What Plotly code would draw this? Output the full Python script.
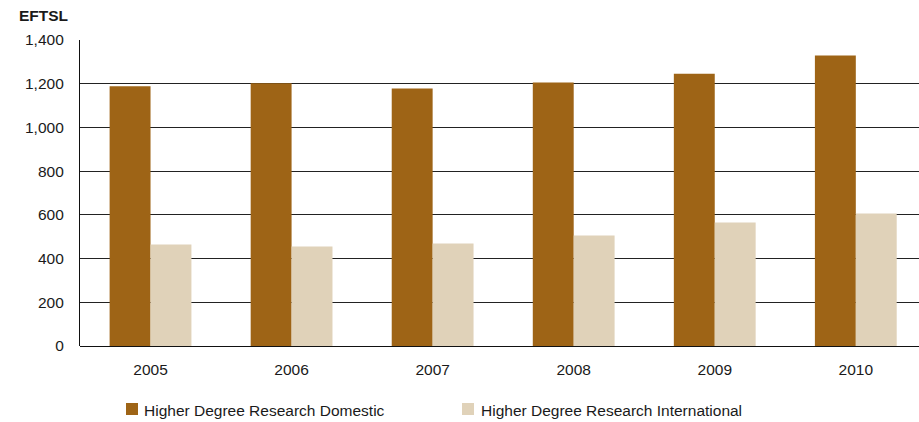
import plotly.graph_objects as go

years = ["2005", "2006", "2007", "2008", "2009", "2010"]
domestic = [1188, 1202, 1178, 1206, 1246, 1329]
international = [464, 455, 469, 505, 565, 606]
series_names = ["Higher Degree Research Domestic", "Higher Degree Research International"]

dom_color = "#9E6416"
intl_color = "#E0D2B9"
font_family = "Liberation Sans, Arial, Helvetica, sans-serif"
text_color = "#1a1a1a"

W, H = 919, 422
ML, MR, MT, MB = 80, 0, 40, 76
plot_w = W - ML - MR
plot_h = H - MT - MB


def px_x(px):
    """Convert a page x position in pixels to paper coordinates."""
    return (px - ML) / plot_w


def px_y(py):
    """Convert a page y position in pixels to paper coordinates."""
    return (H - MB - py) / plot_h


fig = go.Figure()
fig.add_trace(go.Bar(x=years, y=domestic, name=series_names[0],
                     marker=dict(color=dom_color, line=dict(width=0))))
fig.add_trace(go.Bar(x=years, y=international, name=series_names[1],
                     marker=dict(color=intl_color, line=dict(width=0))))

# Legend drawn as coloured squares with labels below the axis
shapes = []
annotations = [dict(text="<b>EFTSL</b>", xref="paper", yref="paper",
                    x=px_x(17), y=px_y(15), xanchor="left", yanchor="middle",
                    showarrow=False, font=dict(size=15.5, color=text_color))]
legend_y = 409
for (sq_left, text_left), name, color in zip([(126, 142), (462, 479)], series_names,
                                             [dom_color, intl_color]):
    shapes.append(dict(type="rect", xref="paper", yref="paper",
                       x0=px_x(sq_left), x1=px_x(sq_left + 12),
                       y0=px_y(legend_y + 6), y1=px_y(legend_y - 6),
                       fillcolor=color, line=dict(width=0)))
    annotations.append(dict(text=name, xref="paper", yref="paper",
                            x=px_x(text_left), y=px_y(legend_y + 1),
                            xanchor="left", yanchor="middle", showarrow=False,
                            font=dict(size=15.5, color=text_color)))

fig.update_layout(
    width=W, height=H,
    margin=dict(l=ML, r=MR, t=MT, b=MB),
    paper_bgcolor="white", plot_bgcolor="white",
    font=dict(family=font_family, size=15.5, color=text_color),
    barmode="group", bargap=0.42, bargroupgap=0,
    showlegend=False,
    shapes=shapes,
    annotations=annotations,
)

fig.update_xaxes(range=[-0.5, 5.448], showgrid=False, showline=False, zeroline=False,
                 ticks="", ticklabelstandoff=12, tickfont=dict(size=15.5))
fig.update_yaxes(range=[0, 1400], dtick=200, tickformat=",d",
                 showgrid=True, gridcolor="#222222", gridwidth=1,
                 showline=True, linecolor="#111111", linewidth=1.2,
                 zeroline=True, zerolinecolor="#111111", zerolinewidth=1.2,
                 ticks="", ticklabelstandoff=12, tickfont=dict(size=15.5))

fig.write_html("out.html")
